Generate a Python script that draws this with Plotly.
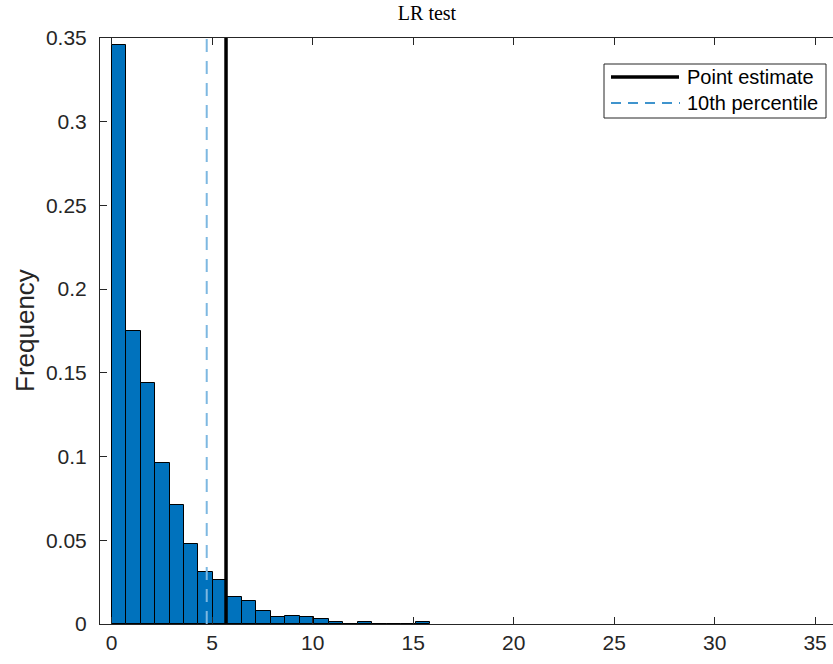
import plotly.graph_objects as go

# ---- data ----
bin_start = 0.0
bin_width = 0.72
frequencies = [0.346, 0.175, 0.144, 0.096, 0.071, 0.048, 0.031, 0.026, 0.016,
               0.014, 0.008, 0.004, 0.005, 0.004, 0.003, 0.001, 0.0, 0.001,
               0.0, 0.0, 0.0, 0.001]
point_estimate = 5.69
pct10 = 4.73
x_ticks = [0, 5, 10, 15, 20, 25, 30, 35]
y_ticks = [0, 0.05, 0.1, 0.15, 0.2, 0.25, 0.3, 0.35]
y_tick_labels = ["0", "0.05", "0.1", "0.15", "0.2", "0.25", "0.3", "0.35"]
title_text = "LR test"
ylabel_text = "Frequency"
legend_names = ["Point estimate", "10th percentile"]

centers = [bin_start + bin_width * (i + 0.5) for i in range(len(frequencies))]

AX = "#262626"
FONT = "Liberation Sans, Arial, sans-serif"
W, H = 833, 664
ML, MR, MT, MB = 100, 0, 38, 40
PW, PH = W - ML - MR, H - MT - MB


def px(xp):
    return (xp - ML) / PW


def py(yp):
    return (H - MB - yp) / PH


fig = go.Figure()
fig.add_trace(go.Bar(
    x=centers, y=frequencies, width=[bin_width] * len(frequencies),
    marker=dict(color="#0072BD", line=dict(color="#000000", width=1)),
    showlegend=False, hoverinfo="skip"))

fig.add_trace(go.Scatter(
    x=[pct10, pct10], y=[y_ticks[0], y_ticks[-1]], mode="lines",
    line=dict(color="rgb(125,184,225)", width=2, dash="13px,9px"),
    showlegend=False, hoverinfo="skip"))
fig.add_trace(go.Scatter(
    x=[point_estimate, point_estimate], y=[y_ticks[0], y_ticks[-1]], mode="lines",
    line=dict(color="#000000", width=3.5),
    showlegend=False, hoverinfo="skip"))

# manual legend (box, samples, labels)
fig.add_shape(type="rect", xref="paper", yref="paper",
              x0=px(604), x1=px(826), y0=py(118), y1=py(64),
              line=dict(color=AX, width=1), fillcolor="white", layer="above")
fig.add_shape(type="line", xref="paper", yref="paper",
              x0=px(611), x1=px(679), y0=py(77), y1=py(77),
              line=dict(color="#000000", width=3.5), layer="above")
fig.add_shape(type="line", xref="paper", yref="paper",
              x0=px(611), x1=px(680), y0=py(103), y1=py(103),
              line=dict(color="#0072BD", width=1.5, dash="10px,7px"), layer="above")
for name, yy in zip(legend_names, [77, 103]):
    fig.add_annotation(text=name, xref="paper", yref="paper", x=px(685), y=py(yy),
                       xanchor="left", yanchor="middle", showarrow=False,
                       font=dict(family=FONT, size=20, color="#000000"))

fig.update_layout(
    width=W, height=H,
    margin=dict(l=ML, r=MR, t=MT, b=MB),
    plot_bgcolor="white", paper_bgcolor="white",
    font=dict(family=FONT, size=21, color=AX),
    bargap=0,
    showlegend=False,
    title=dict(text=title_text, x=427 / W, xref="container", xanchor="center",
               y=1 - 13 / H, yref="container", yanchor="middle",
               font=dict(family="Liberation Serif, Times New Roman, serif", size=20,
                         color="#000000")),
)

fig.update_xaxes(
    range=[-0.58, 35.89], tickvals=x_ticks, ticktext=[str(v) for v in x_ticks],
    ticks="inside", ticklen=7, tickcolor=AX, showline=True, linecolor=AX,
    linewidth=1, mirror="ticks", showgrid=False, zeroline=False,
    tickfont=dict(size=21, color=AX))
fig.update_yaxes(
    range=[0, 0.35], tickvals=y_ticks, ticktext=y_tick_labels,
    ticks="inside", ticklen=7, tickcolor=AX, showline=True, linecolor=AX,
    linewidth=1, mirror=False, showgrid=False, zeroline=False,
    ticklabelstandoff=8,
    tickfont=dict(size=21, color=AX))

fig.add_annotation(text=ylabel_text, xref="paper", yref="paper",
                   x=px(25), y=0.5, textangle=-90, showarrow=False,
                   xanchor="center", yanchor="middle",
                   font=dict(family=FONT, size=26, color=AX))

fig.write_html("out.html", config={"displayModeBar": False},
               post_script="document.body.style.margin='0';")
